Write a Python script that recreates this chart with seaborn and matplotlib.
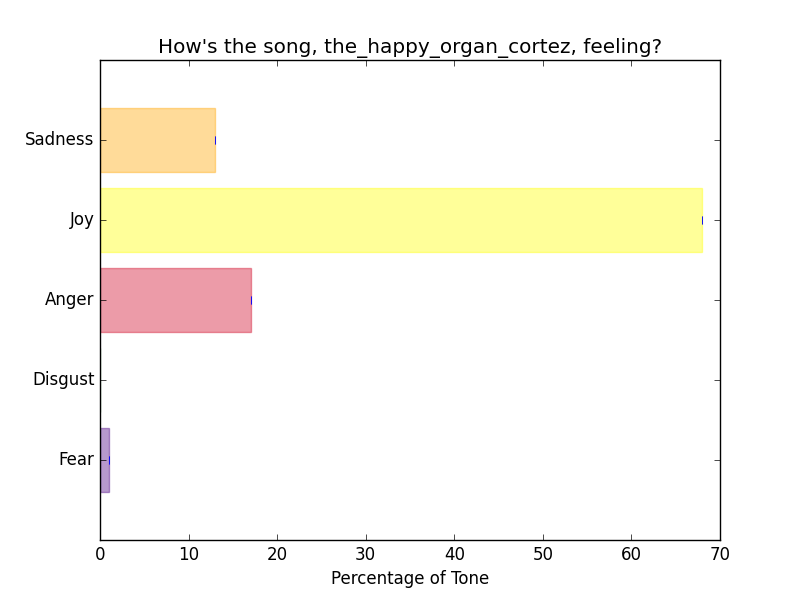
import matplotlib
matplotlib.use('Agg')
import matplotlib.pyplot as plt
import seaborn as sns
import pandas as pd

song = "the_happy_organ_cortez"
tones = ['Sadness', 'Joy', 'Anger', 'Disgust', 'Fear']
scores = [13, 68, 17, 0, 1]
errors = [0, 0, 0, 0, 0]
colors = ['orange', 'yellow', '#D00526', 'green', 'indigo']

df = pd.DataFrame({'Tone': tones, 'Score': scores})

plt.style.use('classic')
fig, ax = plt.subplots(figsize=(8, 6), dpi=100)
fig.patch.set_facecolor('white')

sns.barplot(data=df, x='Score', y='Tone', hue='Tone', palette=colors,
            orient='h', errorbar=None, legend=False, width=0.8,
            alpha=0.4, saturation=1, ax=ax)
for bar, c in zip(ax.patches, colors):
    bar.set_edgecolor(c)
    bar.set_linewidth(1)

# zero-width error bars, only the caps show
ax.errorbar(scores, range(len(tones)), xerr=errors, fmt='none',
            ecolor='blue', capsize=3, elinewidth=1)

ax.set_xlim(0, 70)
ax.set_ylim(len(tones), -1)
ax.set_xlabel('Percentage of Tone')
ax.set_ylabel('')
ax.set_title("How's the song, " + song + ", feeling?")

plt.savefig('out.png', dpi=100, facecolor='white')
